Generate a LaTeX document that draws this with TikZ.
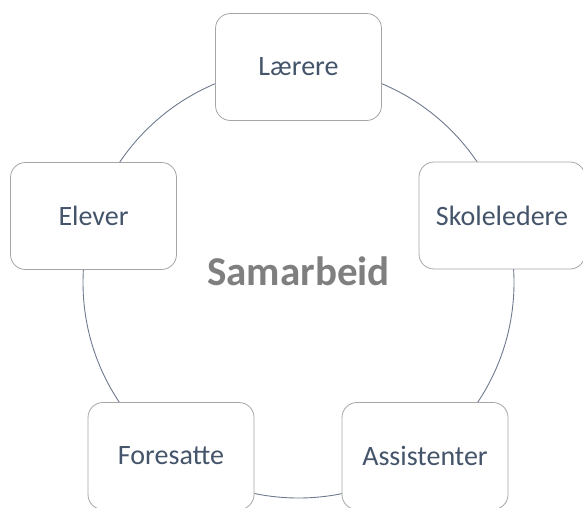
\documentclass[tikz,border=0pt]{standalone}
\usepackage{fontspec}
\setmainfont{Carlito}
\definecolor{txt}{HTML}{44546A}
\definecolor{ring}{HTML}{6E7A8E}
\definecolor{boxline}{HTML}{A6A6A6}
\definecolor{center}{HTML}{7F7F7F}
\begin{document}
\begin{tikzpicture}[x=1pt,y=1pt,
  item/.style={draw=boxline, line width=0.8pt, fill=white, rounded corners=15pt,
    minimum width=166pt, minimum height=107pt, inner sep=0pt,
    text=txt, font=\fontsize{28}{31}\selectfont},
  ringline/.style={draw=ring, line width=0.9pt}]
\useasboundingbox (0,0) rectangle (583,-507);
\coordinate (c) at (298.5,-282.5);
\draw[ringline] (c) circle[radius=215.5pt];
\node[item] (larere) at (298.5,-67) {Lærere};
\node[item] (skole) at (502,-215.5) {Skoleledere};
\node[item] (elever) at (93.5,-216) {Elever};
\node[item] (foresatte) at (171,-456) {Foresatte};
\node[item] (assist) at (425,-456) {Assistenter};
\node[text=center, font=\bfseries\fontsize{41}{46}\selectfont] (sam) at (298.5,-271) {Samarbeid};
\end{tikzpicture}
\end{document}
